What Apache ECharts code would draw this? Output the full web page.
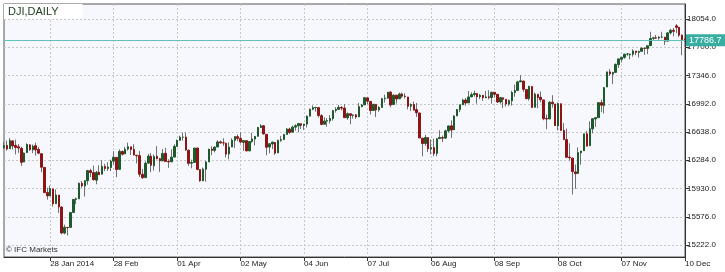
<!DOCTYPE html>
<html><head><meta charset="utf-8">
<script src="https://cdn.jsdelivr.net/npm/echarts@6/dist/echarts.min.js"></script>
<style>html,body{margin:0;padding:0;background:#fff}#c{width:725px;height:272px}</style>
</head><body><div id="c"></div>
<script>
// rows: [date, open, high, low, close]
const jan = [
['2014-01-03',16441,16519,16423,16470],['2014-01-06',16471,16532,16405,16425],['2014-01-07',16429,16562,16429,16531],
['2014-01-08',16527,16528,16416,16463],['2014-01-09',16471,16542,16357,16445],['2014-01-10',16453,16487,16377,16437],
['2014-01-13',16434,16453,16214,16258],['2014-01-14',16262,16383,16262,16374],['2014-01-15',16380,16497,16375,16482],
['2014-01-16',16477,16483,16401,16417],['2014-01-17',16416,16481,16372,16459],['2014-01-21',16467,16505,16341,16414],
['2014-01-22',16420,16453,16360,16373],['2014-01-23',16366,16367,16134,16197],['2014-01-24',16194,16194,15879,15879],
['2014-01-27',15880,15942,15791,15838],['2014-01-28',15838,15967,15837,15929],['2014-01-29',15925,15926,15703,15739],
['2014-01-30',15740,15918,15740,15849],['2014-01-31',15848,15848,15625,15699]];
const feb = [
['2014-02-03',15698,15708,15357,15373],['2014-02-04',15372,15478,15356,15445],['2014-02-05',15443,15443,15341,15440],
['2014-02-06',15443,15632,15443,15629],['2014-02-07',15630,15798,15630,15794],['2014-02-10',15794,15815,15733,15802],
['2014-02-11',15801,16007,15801,15995],['2014-02-12',15995,16024,15941,15964],['2014-02-13',15961,16030,15830,16028],
['2014-02-14',16027,16164,15978,16154],['2014-02-18',16154,16178,16074,16130],['2014-02-19',16129,16216,16030,16041],
['2014-02-20',16035,16152,15983,16133],['2014-02-21',16134,16222,16103,16103],['2014-02-24',16110,16286,16110,16207],
['2014-02-25',16207,16238,16148,16180],['2014-02-26',16181,16259,16150,16198],['2014-02-27',16194,16291,16150,16273],
['2014-02-28',16273,16398,16230,16322]];
const mar = [
['2014-03-03',16320,16320,16072,16168],['2014-03-04',16170,16420,16170,16396],['2014-03-05',16394,16406,16343,16360],
['2014-03-06',16363,16452,16363,16422],['2014-03-07',16425,16505,16405,16453],['2014-03-10',16452,16452,16351,16419],
['2014-03-11',16421,16485,16342,16351],['2014-03-12',16347,16349,16245,16340],['2014-03-13',16342,16400,16075,16109],
['2014-03-14',16108,16176,16051,16066],['2014-03-17',16067,16272,16067,16247],['2014-03-18',16248,16363,16246,16336],
['2014-03-19',16335,16374,16135,16222],['2014-03-20',16215,16357,16154,16331],['2014-03-21',16334,16461,16298,16303],
['2014-03-24',16304,16313,16138,16277],['2014-03-25',16277,16426,16277,16368],['2014-03-26',16372,16439,16268,16269],
['2014-03-27',16268,16296,16189,16264],['2014-03-28',16264,16422,16264,16323],['2014-03-31',16324,16484,16324,16458]];
const apr = [
['2014-04-01',16458,16544,16456,16533],['2014-04-02',16534,16592,16529,16573],['2014-04-03',16573,16632,16530,16573],
['2014-04-04',16575,16631,16401,16413],['2014-04-07',16410,16418,16215,16246],['2014-04-08',16247,16292,16183,16256],
['2014-04-09',16257,16438,16257,16437],['2014-04-10',16438,16438,16159,16170],['2014-04-11',16167,16167,16015,16027],
['2014-04-14',16027,16193,16027,16173],['2014-04-15',16172,16277,16015,16263],['2014-04-16',16263,16424,16263,16425],
['2014-04-17',16424,16460,16348,16409],['2014-04-21',16408,16458,16383,16449],['2014-04-22',16450,16535,16450,16514],
['2014-04-23',16514,16530,16491,16502],['2014-04-24',16503,16560,16465,16502],['2014-04-25',16498,16498,16319,16361],
['2014-04-28',16363,16506,16295,16449],['2014-04-29',16450,16559,16450,16535],['2014-04-30',16534,16581,16439,16581]];
const may = [
['2014-05-01',16580,16608,16523,16559],['2014-05-02',16559,16634,16494,16513],['2014-05-05',16508,16533,16403,16531],
['2014-05-06',16530,16530,16399,16401],['2014-05-07',16401,16523,16401,16519],['2014-05-08',16520,16628,16501,16551],
['2014-05-09',16550,16585,16471,16583],['2014-05-12',16584,16700,16584,16695],['2014-05-13',16695,16736,16691,16715],
['2014-05-14',16716,16724,16606,16614],['2014-05-15',16609,16609,16348,16447],['2014-05-16',16450,16492,16372,16491],
['2014-05-19',16488,16518,16425,16512],['2014-05-20',16507,16507,16350,16374],['2014-05-21',16377,16543,16377,16533],
['2014-05-22',16534,16590,16515,16543],['2014-05-23',16544,16615,16541,16606],['2014-05-27',16607,16686,16607,16676],
['2014-05-28',16675,16691,16615,16633],['2014-05-29',16636,16716,16636,16699],['2014-05-30',16699,16735,16655,16717]];
const jun = [
['2014-06-02',16716,16744,16635,16744],['2014-06-03',16741,16741,16674,16722],['2014-06-04',16721,16738,16664,16738],
['2014-06-05',16737,16845,16695,16836],['2014-06-06',16837,16931,16837,16924],['2014-06-09',16923,16970,16912,16943],
['2014-06-10',16942,16953,16893,16946],['2014-06-11',16944,16944,16820,16844],['2014-06-12',16843,16861,16722,16734],
['2014-06-13',16735,16822,16734,16776],['2014-06-16',16775,16813,16705,16781],['2014-06-17',16780,16851,16744,16808],
['2014-06-18',16807,16914,16781,16907],['2014-06-19',16908,16950,16881,16921],['2014-06-20',16922,16978,16916,16947],
['2014-06-23',16946,16963,16910,16937],['2014-06-24',16938,16986,16813,16818],['2014-06-25',16816,16883,16792,16868],
['2014-06-26',16867,16867,16735,16846],['2014-06-27',16846,16857,16807,16852],['2014-06-30',16853,16864,16803,16827]];
const jul = [
['2014-07-01',16828,17000,16828,16956],['2014-07-02',16956,16989,16947,16976],['2014-07-03',16978,17075,16978,17068],
['2014-07-07',17066,17066,16987,17024],['2014-07-08',17021,17021,16858,16907],['2014-07-09',16908,16986,16908,16986],
['2014-07-10',16984,16984,16826,16915],['2014-07-11',16915,16963,16893,16944],['2014-07-14',16946,17066,16946,17055],
['2014-07-15',17055,17106,17006,17061],['2014-07-16',17061,17139,17061,17138],['2014-07-17',17137,17152,16950,16977],
['2014-07-18',16982,17110,16982,17100],['2014-07-21',17100,17100,16995,17052],['2014-07-22',17054,17131,17054,17114],
['2014-07-23',17114,17131,17066,17087],['2014-07-24',17087,17124,17056,17084],['2014-07-25',17077,17077,16922,16961],
['2014-07-28',16962,16997,16901,16983],['2014-07-29',16984,17020,16911,16912],['2014-07-30',16918,17002,16828,16880],
['2014-07-31',16877,16877,16563,16563]];
const aug = [
['2014-08-01',16561,16561,16333,16493],['2014-08-04',16494,16604,16464,16569],['2014-08-05',16568,16568,16387,16429],
['2014-08-06',16426,16546,16358,16443],['2014-08-07',16443,16554,16333,16368],['2014-08-08',16369,16557,16333,16554],
['2014-08-11',16555,16660,16555,16570],['2014-08-12',16569,16593,16511,16561],['2014-08-13',16561,16668,16561,16652],
['2014-08-14',16652,16717,16630,16714],['2014-08-15',16715,16784,16565,16663],['2014-08-18',16666,16848,16666,16839],
['2014-08-19',16839,16924,16839,16920],['2014-08-20',16918,16981,16887,16979],['2014-08-21',16980,17055,16980,17039],
['2014-08-22',17039,17062,16966,17001],['2014-08-25',17003,17153,17003,17077],['2014-08-26',17078,17137,17076,17107],
['2014-08-27',17107,17155,17081,17122],['2014-08-28',17120,17120,16993,17080],['2014-08-29',17080,17114,17051,17098]];
const sep = [
['2014-09-02',17098,17102,17029,17068],['2014-09-03',17068,17152,17061,17078],['2014-09-04',17079,17161,17047,17070],
['2014-09-05',17070,17140,16993,17137],['2014-09-08',17136,17136,17072,17111],['2014-09-09',17111,17111,17001,17014],
['2014-09-10',17014,17079,16993,17069],['2014-09-11',17067,17067,16938,17049],['2014-09-12',17048,17048,16956,16988],
['2014-09-15',16988,17046,16962,17031],['2014-09-16',17028,17156,16969,17132],['2014-09-17',17133,17233,17079,17157],
['2014-09-18',17159,17279,17159,17266],['2014-09-19',17266,17351,17266,17280],['2014-09-22',17277,17277,17142,17173],
['2014-09-23',17170,17170,17050,17056],['2014-09-24',17056,17218,17031,17210],['2014-09-25',17209,17210,16946,16946],
['2014-09-26',16948,17133,16948,17113],['2014-09-29',17111,17111,16936,17071],['2014-09-30',17073,17145,17010,17043]];
const oct = [
['2014-10-01',17040,17040,16786,16805],['2014-10-02',16808,16857,16674,16801],['2014-10-03',16802,17027,16802,17010],
['2014-10-06',17011,17099,16943,16992],['2014-10-07',16989,16989,16713,16719],['2014-10-08',16714,17008,16660,16994],
['2014-10-09',16992,16992,16655,16659],['2014-10-10',16658,16750,16544,16544],['2014-10-13',16543,16680,16321,16321],
['2014-10-14',16324,16497,16280,16315],['2014-10-15',16312,16312,15855,16142],['2014-10-16',16138,16232,15926,16117],
['2014-10-17',16119,16446,16119,16380],['2014-10-20',16378,16400,16228,16400],['2014-10-21',16403,16615,16403,16615],
['2014-10-22',16615,16653,16461,16461],['2014-10-23',16467,16772,16467,16678],['2014-10-24',16677,16806,16620,16805],
['2014-10-27',16801,16821,16702,16818],['2014-10-28',16818,17006,16818,17006],['2014-10-29',17006,17043,16887,16974],
['2014-10-30',16970,17197,16870,17195],['2014-10-31',17202,17395,17202,17391]];
const nov = [
['2014-11-03',17391,17426,17341,17366],['2014-11-04',17364,17392,17238,17384],['2014-11-05',17385,17497,17385,17485],
['2014-11-06',17483,17555,17440,17554],['2014-11-07',17550,17577,17510,17574],['2014-11-10',17573,17618,17557,17614],
['2014-11-11',17615,17628,17593,17615],['2014-11-12',17606,17622,17549,17612],['2014-11-13',17612,17674,17582,17653],
['2014-11-14',17653,17653,17601,17635],['2014-11-17',17635,17657,17571,17648],['2014-11-18',17649,17701,17649,17688],
['2014-11-19',17688,17688,17606,17686],['2014-11-20',17684,17719,17614,17719],['2014-11-21',17720,17894,17720,17810],
['2014-11-24',17811,17832,17788,17818],['2014-11-25',17818,17855,17803,17815],['2014-11-26',17816,17838,17794,17828],
['2014-11-28',17828,17894,17812,17828]];
const dec = [
['2014-12-01',17827,17827,17730,17777],['2014-12-02',17777,17887,17777,17880],['2014-12-03',17880,17931,17861,17913],
['2014-12-04',17912,17941,17836,17900],['2014-12-05',17968,17991,17877,17950],['2014-12-08',17950,17955,17830,17852],
['2014-12-09',17852,17860,17600,17795],['2014-12-10',17800,17808,17770,17786.7]];

const tickLabels = [
['2014-01-28','28 Jan 2014'],['2014-02-28','28 Feb'],['2014-04-01','01 Apr'],['2014-05-02','02 May'],
['2014-06-04','04 Jun'],['2014-07-07','07 Jul'],['2014-08-06','06 Aug'],['2014-09-08','08 Sep'],
['2014-10-08','08 Oct'],['2014-11-07','07 Nov'],['2014-12-10','10 Dec']];
const yTicks = [15222,15576,15930,16284,16638,16992,17346,17700,18054];
const yMin = 15072, yMax = 18242;
const lastPrice = 17786.7;
const title = 'DJI,DAILY';
const watermark = '\u00A9 IFC Markets';

const rows = [].concat(jan,feb,mar,apr,may,jun,jul,aug,sep,oct,nov,dec);
const dates = rows.map(r => r[0]);
const labelMap = {}; tickLabels.forEach(t => labelMap[t[0]] = t[1]);
const isTick = (i) => labelMap[dates[i]] !== undefined;
const wickData = rows.map(r => [r[1], r[4], r[3], r[2]]);
const bodyData = rows.map(r => [r[1], r[4], Math.min(r[1], r[4]), Math.max(r[1], r[4])]);

const FONT = 'Liberation Sans';
const chart = echarts.init(document.getElementById('c'), null, {renderer: 'canvas'});
chart.setOption({
  animation: false,
  backgroundColor: '#ffffff',
  title: [
    {text: title, left: 4, top: 4, padding: [2, 24, 2, 4], backgroundColor: '#ffffff',
     textStyle: {fontFamily: FONT, fontSize: 11, fontWeight: 'normal', color: '#1e421e'}},
    {text: watermark, left: 6, top: 246, padding: 0,
     textStyle: {fontFamily: FONT, fontSize: 8, fontWeight: 'normal', color: '#333333'}}
  ],
  grid: {left: 4, right: 40, top: 4, bottom: 15, show: true, backgroundColor: '#f7f8fd',
         borderColor: '#555555', borderWidth: 1},
  xAxis: {
    type: 'category', data: dates, boundaryGap: false,
    axisLine: {lineStyle: {color: '#333333'}},
    axisTick: {show: true, length: 4, interval: (i) => isTick(i), lineStyle: {color: '#333333'}},
    axisLabel: {interval: (i) => isTick(i), formatter: (v) => labelMap[v] || '', align: 'left', margin: 3,
      fontFamily: FONT, fontSize: 8, color: '#222222'},
    splitLine: {show: true, interval: (i) => isTick(i), lineStyle: {color: '#c8c8c8', type: [2, 2]}}
  },
  yAxis: {
    type: 'value', position: 'right', min: yMin, max: yMax, scale: true,
    axisLine: {show: true, lineStyle: {color: '#333333'}},
    axisTick: {show: true, length: 4, customValues: yTicks, lineStyle: {color: '#333333'}},
    axisLabel: {customValues: yTicks, formatter: (v) => v.toFixed(1), margin: 2,
      fontFamily: FONT, fontSize: 8, color: '#222222'},
    splitLine: {show: true, lineStyle: {color: '#c8c8c8', type: [2, 2]}}
  },
  series: [
    {type: 'candlestick', data: wickData, barWidth: 1,
     itemStyle: {color: '#707070', color0: '#707070', borderColor: '#707070', borderColor0: '#707070', borderWidth: 1}},
    {type: 'candlestick', data: bodyData, barWidth: 2,
     itemStyle: {color: '#1f5a2c', color0: '#8e1515', borderColor: '#1f5a2c', borderColor0: '#8e1515', borderWidth: 1},
     markLine: {silent: true, symbol: 'none', animation: false,
       lineStyle: {color: '#5ec2b8', width: 1, type: 'solid'},
       label: {position: 'end', distance: 1, formatter: lastPrice.toFixed(1), color: '#ffffff',
         backgroundColor: '#38ada2', padding: [2, 6, 1, 3], fontFamily: FONT, fontSize: 9},
       data: [{yAxis: lastPrice}]}}
  ]
});
</script></body></html>
